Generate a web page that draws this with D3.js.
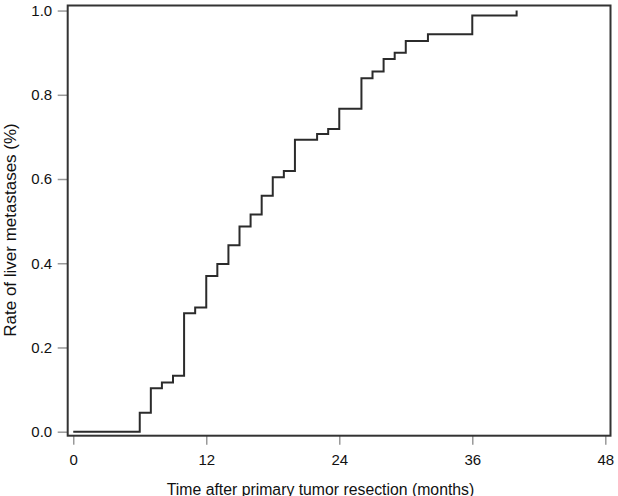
<!DOCTYPE html>
<html>
<head>
<meta charset="utf-8">
<script src="https://cdn.jsdelivr.net/npm/d3@7"></script>
<style>
body { margin: 0; background: #fff; }
svg { display: block; font-family: "Liberation Sans", Arial, sans-serif; }
.axis text { fill: #111; font-size: 15px; }
.axis line { stroke: #999; stroke-width: 1.5; }
.axis path { display: none; }
</style>
</head>
<body>
<svg id="myGraph" width="618" height="496"></svg>
<script>
// months after resection and cumulative rate (step curve)
var months = [0, 6, 7, 8, 9, 10, 11, 12, 13, 14, 15, 16, 17, 18, 19, 20, 22, 23, 24, 26, 27, 28, 29, 30, 32, 36, 40];
var rates = [0, 0.045, 0.103, 0.117, 0.133, 0.281, 0.295, 0.370, 0.398, 0.443, 0.487, 0.516, 0.560, 0.604, 0.619, 0.693, 0.707, 0.719, 0.767, 0.839, 0.855, 0.885, 0.900, 0.928, 0.944, 0.988, 1.0];
var xTicks = [0, 12, 24, 36, 48];
var yTicks = [0, 0.2, 0.4, 0.6, 0.8, 1.0];

var svg = d3.select("#myGraph");
var plotLeft = 67.7, plotRight = 610.5, plotTop = 5.5, plotBottom = 435.7;

var xScale = d3.scaleLinear().domain([-0.5, 48.47]).range([plotLeft, plotRight]);
var yScale = d3.scaleLinear().domain([-0.0095, 1.012]).range([plotBottom, plotTop]);

// x axis
svg.append("g")
  .attr("class", "axis")
  .attr("transform", "translate(0," + plotBottom + ")")
  .call(d3.axisBottom(xScale).tickValues(xTicks).tickSize(9).tickPadding(10).tickFormat(d3.format("d")));

// y axis
svg.append("g")
  .attr("class", "axis")
  .attr("transform", "translate(" + plotLeft + ",0)")
  .call(d3.axisLeft(yScale).tickValues(yTicks).tickSize(10).tickPadding(5.5).tickFormat(d3.format(".1f")));

// step line
var line = d3.line()
  .x(function(d, i){ return xScale(months[i]); })
  .y(function(d){ return yScale(d); })
  .curve(d3.curveStepAfter);

svg.append("path")
  .attr("d", line(rates))
  .attr("fill", "none")
  .attr("stroke", "#2b2b2b")
  .attr("stroke-width", 2);

// frame
svg.append("rect")
  .attr("x", plotLeft).attr("y", plotTop)
  .attr("width", plotRight - plotLeft).attr("height", plotBottom - plotTop)
  .attr("fill", "none")
  .attr("stroke", "#333")
  .attr("stroke-width", 2);

// axis titles
svg.append("text")
  .attr("x", 320.5).attr("y", 494.5)
  .attr("text-anchor", "middle")
  .style("font-size", "15.8px").style("fill", "#111")
  .text("Time after primary tumor resection (months)");

svg.append("text")
  .attr("transform", "translate(16,230) rotate(-90)")
  .attr("text-anchor", "middle")
  .style("font-size", "17px").style("fill", "#111")
  .text("Rate of liver metastases (%)");
</script>
</body>
</html>
